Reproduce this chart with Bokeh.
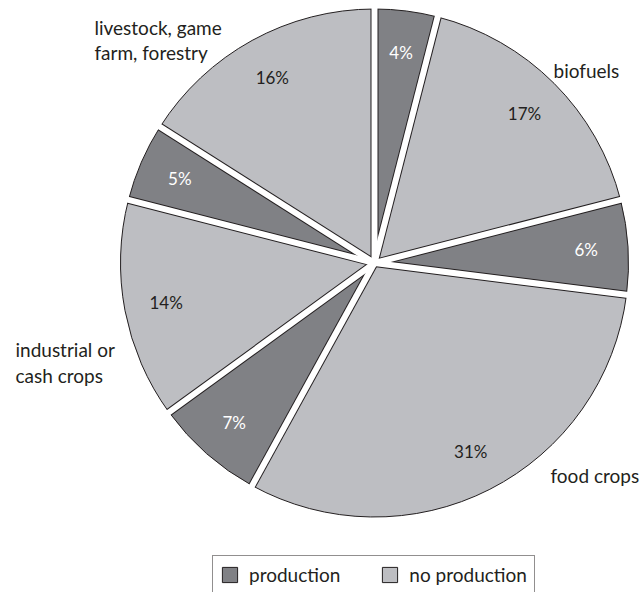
import numpy as np
from bokeh.plotting import figure
from bokeh.models import ColumnDataSource, Range1d, Legend, LegendItem
from bokeh.core.properties import value
from bokeh.embed import file_html
from bokeh.resources import INLINE

# ---- data (clockwise from 12 o'clock) ----
shares = [4, 17, 6, 31, 7, 14, 5, 16]
kinds = ["production", "no production", "production", "no production",
         "production", "no production", "production", "no production"]
pct_labels = ["4%", "17%", "6%", "31%", "7%", "14%", "5%", "16%"]
legend_labels = ["production", "no production"]

# ---- styling ----
FONT = "Lato"
INK = "#231f20"
COLORS = {"production": "#808185", "no production": "#bdbec2"}
TEXT_COLORS = {"production": "#ffffff", "no production": INK}

W, H = 644, 592
CX, CY, R = 374, 329.5, 254

frac = np.array(shares, dtype=float) / sum(shares)
cum = np.concatenate([[0.0], np.cumsum(frac)])
start = np.pi / 2 - 2 * np.pi * cum[:-1]
end = np.pi / 2 - 2 * np.pi * cum[1:]
mid = (start + end) / 2
LR = 0.835 * R

src = ColumnDataSource(dict(
    start=start, end=end, kind=kinds,
    color=[COLORS[k] for k in kinds],
    tcolor=[TEXT_COLORS[k] for k in kinds],
    lx=CX + LR * np.cos(mid), ly=CY + LR * np.sin(mid),
    label=pct_labels,
))

p = figure(width=W, height=H, x_range=Range1d(0, W), y_range=Range1d(0, H),
           output_backend="svg", toolbar_location=None,
           x_axis_type=None, y_axis_type=None, min_border=0,
           outline_line_color=None, background_fill_color="white")
p.grid.visible = False

wr = p.wedge(x=CX, y=CY, radius=R, start_angle="start", end_angle="end",
             direction="clock", fill_color="color", line_color=INK,
             line_width=1, source=src)

# gaps between slices: dark border strip then white strip
p.ray(x=CX, y=CY, length=R, angle=start, line_width=8, line_color=INK)
p.ray(x=CX, y=CY, length=R + 4, angle=start, line_width=6, line_color="white")

p.text(x="lx", y="ly", text="label", source=src, text_align="center",
       text_baseline="middle", text_color="tcolor",
       text_font=value(FONT), text_font_size="17px")

# category labels
cat_labels = [
    (94, 565, "livestock, game"),
    (94, 540, "farm, forestry"),
    (553, 522, "biofuels"),
    (15, 243, "industrial or"),
    (15, 217, "cash crops"),
    (550, 117, "food crops"),
]
p.text(x=[c[0] for c in cat_labels], y=[c[1] for c in cat_labels],
       text=[c[2] for c in cat_labels], text_align="left",
       text_baseline="alphabetic", text_color=INK,
       text_font=value(FONT), text_font_size="19px")

legend = Legend(items=[LegendItem(label=legend_labels[0], renderers=[wr], index=0),
                       LegendItem(label=legend_labels[1], renderers=[wr], index=1)],
                orientation="horizontal", location=(212, -2), margin=0,
                padding=7, spacing=40, label_standoff=10,
                glyph_width=19, glyph_height=19, label_height=20,
                label_text_font=FONT, label_text_font_size="19px",
                label_text_color=INK, label_text_baseline="middle",
                border_line_color=INK, border_line_width=1,
                background_fill_color="white", background_fill_alpha=1)
p.add_layout(legend, "center")

open("out.html", "w").write(file_html(p, INLINE))
